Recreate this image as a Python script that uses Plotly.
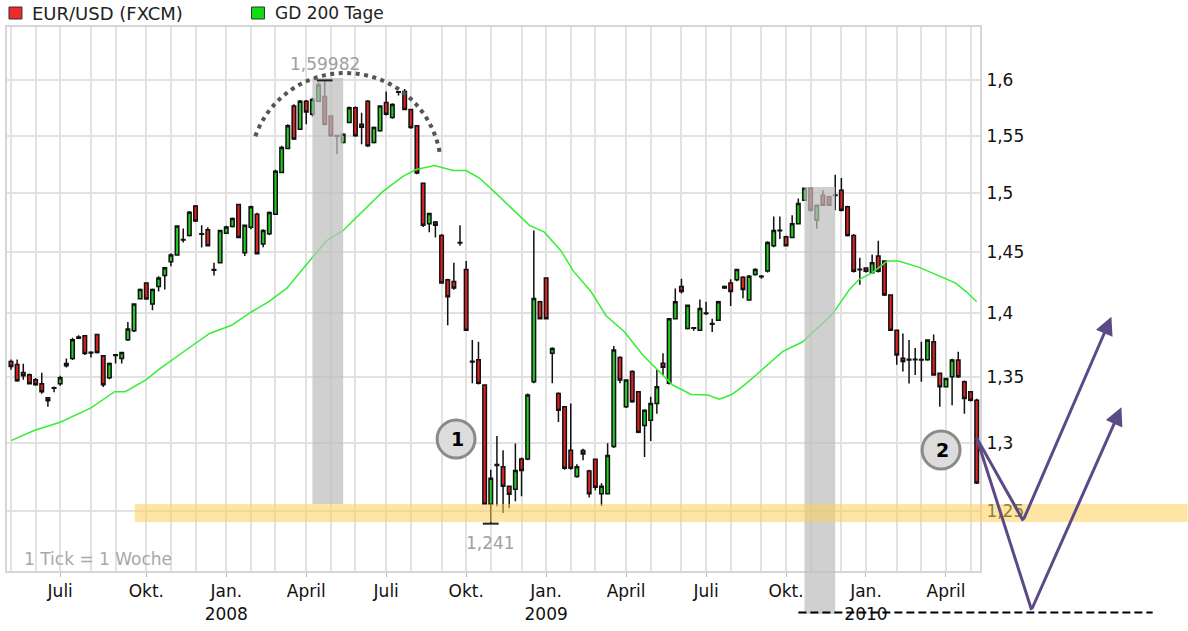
import math
import pandas as pd
import plotly.graph_objects as go

# ---------------- data ----------------
FIRST_WEEK = "2007-04-30"   # Monday of the first weekly candle

OPEN = [
    1.3618, 1.3594, 1.3532, 1.3516, 1.3477, 1.3446, 1.3338, 1.3415, 1.3446, 1.3586,
    1.3641, 1.3800, 1.3820, 1.3690, 1.3831, 1.3664, 1.3492, 1.3672, 1.3641, 1.3789,
    1.3860, 1.4117, 1.4244, 1.4075, 1.4217, 1.4306, 1.4419, 1.4475, 1.4605, 1.4637,
    1.4888, 1.4652, 1.4686, 1.4356, 1.4411, 1.4657, 1.4714, 1.4900, 1.4494, 1.4708,
    1.4817, 1.4566, 1.4652, 1.4817, 1.5175, 1.5386, 1.5764, 1.5557, 1.5808, 1.5690,
    1.5808, 1.5852, 1.5675, 1.5500, 1.5439, 1.5617, 1.5750, 1.5602, 1.5808, 1.5439,
    1.5543, 1.5797, 1.5661, 1.5895, 1.5896, 1.5734, 1.5587, 1.5083, 1.4737, 1.4751,
    1.4637, 1.4272, 1.4258, 1.4580, 1.4356, 1.3620, 1.3631, 1.3436, 1.2548, 1.2838,
    1.2821, 1.2679, 1.2657, 1.2879, 1.2879, 1.3462, 1.4092, 1.4286, 1.3682, 1.3371,
    1.3269, 1.2943, 1.2750, 1.2941, 1.2790, 1.2876, 1.2624, 1.2624, 1.2971, 1.3649,
    1.3269, 1.3540, 1.3385, 1.3128, 1.3167, 1.3295, 1.3605, 1.3449, 1.3956, 1.4217,
    1.3878, 1.3885, 1.3865, 1.4002, 1.3918, 1.3943, 1.4217, 1.4244, 1.4272, 1.4292,
    1.4106, 1.4314, 1.4300, 1.4342, 1.4551, 1.4682, 1.4628, 1.4622, 1.4737, 1.4937,
    1.5039, 1.4766, 1.4980, 1.4966, 1.4982, 1.5023, 1.4880, 1.4637, 1.4358, 1.4367,
    1.4328, 1.4467, 1.4425, 1.4147, 1.3865, 1.3643, 1.3635, 1.3636, 1.3634, 1.3631,
    1.3774, 1.3526, 1.3423, 1.3500, 1.3630, 1.3462, 1.3385, 1.3320]

HIGH = [
    1.3633, 1.3633, 1.3601, 1.3525, 1.3490, 1.3531, 1.3345, 1.3425, 1.3508, 1.3641,
    1.3805, 1.3825, 1.3825, 1.3698, 1.3835, 1.3670, 1.3610, 1.3675, 1.3695, 1.3930,
    1.4080, 1.4200, 1.4250, 1.4200, 1.4300, 1.4375, 1.4490, 1.4720, 1.4697, 1.4845,
    1.4895, 1.4723, 1.4708, 1.4411, 1.4685, 1.4720, 1.4790, 1.4905, 1.4727, 1.4890,
    1.4830, 1.4690, 1.4840, 1.5200, 1.5410, 1.5600, 1.5780, 1.5820, 1.5820, 1.5840,
    1.5980, 1.59982, 1.5680, 1.5505, 1.5520, 1.5760, 1.5760, 1.5705, 1.5820, 1.5580,
    1.5770, 1.5896, 1.5790, 1.5897, 1.5920, 1.5740, 1.5590, 1.5090, 1.4830, 1.4760,
    1.4650, 1.4280, 1.4411, 1.4723, 1.4425, 1.3787, 1.3774, 1.3440, 1.2800, 1.3050,
    1.2943, 1.2680, 1.2993, 1.2890, 1.3370, 1.4680, 1.4100, 1.4290, 1.3730, 1.3380,
    1.3270, 1.3294, 1.2840, 1.2955, 1.2800, 1.2880, 1.2700, 1.2995, 1.3740, 1.3660,
    1.3480, 1.3550, 1.3390, 1.3250, 1.3346, 1.3552, 1.3682, 1.3960, 1.4200, 1.4280,
    1.4070, 1.3890, 1.4111, 1.4092, 1.3956, 1.4100, 1.4225, 1.4275, 1.4360, 1.4300,
    1.4310, 1.4365, 1.4310, 1.4590, 1.4797, 1.4797, 1.4635, 1.4809, 1.4952, 1.5045,
    1.5050, 1.4900, 1.5023, 1.4970, 1.5157, 1.5128, 1.4890, 1.4650, 1.4453, 1.4370,
    1.4480, 1.4594, 1.4430, 1.4150, 1.3870, 1.3839, 1.3787, 1.3725, 1.3774, 1.3790,
    1.3830, 1.3530, 1.3490, 1.3640, 1.3695, 1.3470, 1.3390, 1.3330]

LOW = [
    1.3555, 1.3462, 1.3477, 1.3440, 1.3430, 1.3369, 1.3269, 1.3380, 1.3431, 1.3571,
    1.3630, 1.3795, 1.3670, 1.3650, 1.3680, 1.3420, 1.3480, 1.3602, 1.3602, 1.3780,
    1.3850, 1.4110, 1.4110, 1.4025, 1.4175, 1.4192, 1.4383, 1.4470, 1.4580, 1.4630,
    1.4751, 1.4538, 1.4546, 1.4306, 1.4405, 1.4650, 1.4705, 1.4615, 1.4467, 1.4690,
    1.4480, 1.4540, 1.4640, 1.4810, 1.5170, 1.5380, 1.5460, 1.5550, 1.5602, 1.5670,
    1.5800, 1.5590, 1.5490, 1.5336, 1.5430, 1.5610, 1.5490, 1.5424, 1.5400, 1.5430,
    1.5535, 1.5680, 1.5650, 1.5860, 1.5730, 1.5560, 1.5160, 1.4710, 1.4665, 1.4622,
    1.4240, 1.3904, 1.4190, 1.4551, 1.3860, 1.3449, 1.3440, 1.2545, 1.2410, 1.2535,
    1.2486, 1.2521, 1.2571, 1.2607, 1.2870, 1.3450, 1.3950, 1.3950, 1.3449, 1.3154,
    1.2800, 1.2800, 1.2740, 1.2870, 1.2597, 1.2650, 1.2536, 1.2620, 1.2960, 1.3450,
    1.3260, 1.3300, 1.3070, 1.2893, 1.3012, 1.3217, 1.3513, 1.3440, 1.3950, 1.4160,
    1.3870, 1.3860, 1.3860, 1.3985, 1.3850, 1.3940, 1.4195, 1.4058, 1.4260, 1.4120,
    1.4100, 1.4305, 1.4280, 1.4330, 1.4540, 1.4609, 1.4545, 1.4615, 1.4730, 1.4930,
    1.4840, 1.4695, 1.4890, 1.4890, 1.4852, 1.4840, 1.4630, 1.4330, 1.4230, 1.4330,
    1.4320, 1.4330, 1.4140, 1.3860, 1.3592, 1.3540, 1.3448, 1.3513, 1.3462, 1.3625,
    1.3510, 1.3269, 1.3420, 1.3282, 1.3490, 1.3217, 1.3310, 1.2695]

CLOSE = [
    1.3579, 1.3469, 1.3508, 1.3446, 1.3438, 1.3385, 1.3315, 1.3412, 1.3492, 1.3602,
    1.3789, 1.3810, 1.3680, 1.3685, 1.3688, 1.3438, 1.3602, 1.3665, 1.3688, 1.3875,
    1.4075, 1.4192, 1.4115, 1.4192, 1.4286, 1.4369, 1.4475, 1.4717, 1.4600, 1.4834,
    1.4760, 1.4648, 1.4552, 1.4350, 1.4680, 1.4709, 1.4780, 1.4622, 1.4723, 1.4880,
    1.4486, 1.4680, 1.4831, 1.5187, 1.5395, 1.5587, 1.5469, 1.5808, 1.5711, 1.5823,
    1.5956, 1.5602, 1.5498, 1.5495, 1.5513, 1.5750, 1.5498, 1.5575, 1.5409, 1.5572,
    1.5764, 1.5690, 1.5779, 1.5890, 1.5734, 1.5572, 1.5172, 1.4723, 1.4823, 1.4723,
    1.4244, 1.4133, 1.4203, 1.4576, 1.3865, 1.3615, 1.3449, 1.2548, 1.2738, 1.2830,
    1.2679, 1.2621, 1.2793, 1.2793, 1.3359, 1.4119, 1.3956, 1.3956, 1.3720, 1.3243,
    1.2810, 1.2810, 1.2821, 1.2916, 1.2624, 1.2671, 1.2679, 1.2905, 1.3709, 1.3475,
    1.3475, 1.3308, 1.3077, 1.3244, 1.3295, 1.3423, 1.3573, 1.3956, 1.4092, 1.4175,
    1.4064, 1.3880, 1.4039, 1.3998, 1.3912, 1.4092, 1.4205, 1.4175, 1.4356, 1.4192,
    1.4300, 1.4356, 1.4296, 1.4580, 1.4680, 1.4678, 1.4551, 1.4737, 1.4909, 1.5039,
    1.4852, 1.4894, 1.4894, 1.4894, 1.4978, 1.4852, 1.4637, 1.4340, 1.4354, 1.4340,
    1.4411, 1.4340, 1.4147, 1.3865, 1.3670, 1.3618, 1.3630, 1.3632, 1.3630, 1.3787,
    1.3513, 1.3423, 1.3487, 1.3630, 1.3500, 1.3333, 1.3320, 1.2702]

# 200-day moving average ("GD 200 Tage")
MA_DATES = [
    "2007-04-30", "2007-05-27", "2007-06-25", "2007-07-30", "2007-08-26", "2007-09-07",
    "2007-10-01", "2007-10-15", "2007-11-18", "2007-12-12", "2008-01-06", "2008-01-29",
    "2008-02-17", "2008-03-09", "2008-04-02", "2008-04-23", "2008-05-12", "2008-06-13",
    "2008-06-26", "2008-07-19", "2008-08-03", "2008-08-24", "2008-09-14", "2008-09-29",
    "2008-10-14", "2008-11-02", "2008-12-10", "2008-12-27", "2009-01-15", "2009-01-29",
    "2009-02-18", "2009-03-07", "2009-03-28", "2009-04-18", "2009-05-05", "2009-05-22",
    "2009-06-12", "2009-07-01", "2009-07-14", "2009-07-27", "2009-08-07", "2009-08-25",
    "2009-09-24", "2009-10-17", "2009-11-20", "2009-12-09", "2009-12-20", "2010-01-04",
    "2010-01-21", "2010-02-03", "2010-02-26", "2010-03-17", "2010-04-09", "2010-04-21",
    "2010-05-03"]
MA_VALUES = [
    1.3015, 1.3092, 1.3153, 1.3261, 1.3385, 1.3385, 1.3477, 1.3555, 1.3722, 1.3839,
    1.3904, 1.4012, 1.4092, 1.4203, 1.4411, 1.4594, 1.4680, 1.4909, 1.5010, 1.5142,
    1.5202, 1.5237, 1.5193, 1.5193, 1.5128, 1.4995, 1.4723, 1.4666, 1.4509, 1.4342,
    1.4175, 1.3982, 1.3852, 1.3669, 1.3552, 1.3436, 1.3364, 1.3359, 1.3328, 1.3359,
    1.3410, 1.3513, 1.3695, 1.3773, 1.3995, 1.4189, 1.4273, 1.4328, 1.4425, 1.4425,
    1.4375, 1.4314, 1.4244, 1.4175, 1.4092]

Y_TICKS = [1.25, 1.3, 1.35, 1.4, 1.45, 1.5, 1.55, 1.6]
Y_TICK_LABELS = ["1,25", "1,3", "1,35", "1,4", "1,45", "1,5", "1,55", "1,6"]

LABEL_MONTHS = ["2007-07-01", "2007-10-01", "2008-01-01", "2008-04-01", "2008-07-01",
                "2008-10-01", "2009-01-01", "2009-04-01", "2009-07-01", "2009-10-01",
                "2010-01-01", "2010-04-01"]
LABEL_TEXTS = ["Juli", "Okt.", "Jan.<br>2008", "April", "Juli", "Okt.", "Jan.<br>2009",
               "April", "Juli", "Okt.", "Jan.<br>2010", "April"]
GRID_FIRST_MONTH, GRID_LAST_MONTH = "2007-05-01", "2010-05-01"

SERIES_NAME = "EUR/USD (FXCM)"
MA_NAME = "GD 200 Tage"
HIGH_TEXT, LOW_TEXT = "1,59982", "1,241"
HIGH_IDX, LOW_IDX = 51, 78
SHADE_WEEKS = [(49, 54), (129, 134)]
NOTE = "1 Tick = 1 Woche"

# ---------------- layout helpers (pixel geometry of the frame) ----------------
W, H = 1188, 631
PL, PR, PT, PB = 5, 980, 27, 571


def px(x):
    return (x - PL) / (PR - PL)


def py(y):
    return (PB - y) / (PB - PT)


FONT = "DejaVu Sans"
RED, GREEN = "#e02222", "#22cc22"
GRID = "#e2e2e2"
PURPLE = "#5b4a86"

dates = pd.date_range(FIRST_WEEK, periods=len(OPEN), freq="7D")


def week_of(day):
    d = pd.Timestamp(day)
    return d - pd.Timedelta(days=d.weekday())


grid_vals = [week_of(m) for m in pd.date_range(GRID_FIRST_MONTH, GRID_LAST_MONTH, freq="MS")]
label_vals = [week_of(m) for m in LABEL_MONTHS]

fig = go.Figure()
fig.add_trace(go.Candlestick(
    x=dates, open=OPEN, high=HIGH, low=LOW, close=CLOSE,
    increasing=dict(line=dict(color="#111111", width=1.5), fillcolor=GREEN),
    decreasing=dict(line=dict(color="#111111", width=1.5), fillcolor=RED),
    whiskerwidth=0, showlegend=False, hoverinfo="skip"))
fig.add_trace(go.Scatter(
    x=MA_DATES, y=MA_VALUES, mode="lines", line=dict(color="#35ee35", width=1.5),
    showlegend=False, hoverinfo="skip"))

shapes = []
annotations = []

# shaded weeks
shade_px = [(78, 504), (187, 614)]
for (a, b), (top, bottom) in zip(SHADE_WEEKS, shade_px):
    shapes.append(dict(type="rect", xref="x", yref="paper", x0=dates[a], x1=dates[b],
                       y0=py(bottom), y1=py(top),
                       fillcolor="rgba(190,190,190,0.72)", line=dict(width=0), layer="above"))

# support band
shapes.append(dict(type="rect", xref="paper", yref="paper", x0=px(133), x1=px(1188),
                   y0=py(522), y1=py(504), fillcolor="rgba(253,208,90,0.55)",
                   line=dict(width=0), layer="above"))

# high / low markers
half = pd.Timedelta(days=9)
shapes.append(dict(type="line", xref="x", yref="y", x0=dates[HIGH_IDX] - half,
                   x1=dates[HIGH_IDX] + half, y0=HIGH[HIGH_IDX], y1=HIGH[HIGH_IDX],
                   line=dict(color="#222", width=2)))
shapes.append(dict(type="line", xref="x", yref="y", x0=dates[LOW_IDX] - half,
                   x1=dates[LOW_IDX] + half, y0=LOW[LOW_IDX], y1=LOW[LOW_IDX],
                   line=dict(color="#222", width=2)))
annotations.append(dict(x=dates[HIGH_IDX], y=math.log10(HIGH[HIGH_IDX]), xref="x", yref="y",
                        text=HIGH_TEXT, showarrow=False, yshift=16,
                        xanchor="center", yanchor="middle",
                        font=dict(family=FONT, size=17, color="#a0a0a0")))
annotations.append(dict(x=dates[LOW_IDX], y=math.log10(LOW[LOW_IDX]), xref="x", yref="y",
                        text=LOW_TEXT, showarrow=False, yshift=-19,
                        xanchor="center", yanchor="middle",
                        font=dict(family=FONT, size=17, color="#a0a0a0")))

# dotted arc over the top
cx, cy, r = 344, 169, 96
pts = []
n = 60
a0, a1 = math.radians(160), math.radians(9)
for k in range(n + 1):
    a = a0 + (a1 - a0) * k / n
    pts.append((px(cx + r * math.cos(a)), py(cy - r * math.sin(a))))
path = "M" + " L".join(f"{x:.5f},{y:.5f}" for x, y in pts)
shapes.append(dict(type="path", xref="paper", yref="paper", path=path,
                   line=dict(color="#555555", width=4, dash="4px,4.5px"), layer="above"))

# circled numbers
for (ccx, ccy, label) in [(455, 439, "1"), (941, 450, "2")]:
    rr = 19
    shapes.append(dict(type="circle", xref="paper", yref="paper",
                       x0=px(ccx - rr), x1=px(ccx + rr), y0=py(ccy + rr), y1=py(ccy - rr),
                       fillcolor="#dcdcdc", line=dict(color="#8a8a8a", width=3), layer="above"))
    annotations.append(dict(x=px(ccx + 1), y=py(ccy), xref="paper", yref="paper",
                            text=f"<b>{label}</b>", showarrow=False,
                            xanchor="center", yanchor="middle",
                            font=dict(family=FONT, size=19, color="#000")))

# purple scenario arrows
start = (976.7, 438)
for mid, head in [((1023.3, 520.7), (1111.7, 316.7)), ((1031.7, 610), (1121.7, 407.3))]:
    shapes.append(dict(type="line", xref="paper", yref="paper",
                       x0=px(start[0]), y0=py(start[1]), x1=px(mid[0]), y1=py(mid[1]),
                       line=dict(color=PURPLE, width=3), layer="above"))
    annotations.append(dict(x=px(head[0]), y=py(head[1]), xref="paper", yref="paper",
                            ax=mid[0] - head[0], ay=mid[1] - head[1], axref="pixel", ayref="pixel",
                            text="", showarrow=True, arrowhead=2, arrowsize=1.2, arrowwidth=3,
                            arrowcolor=PURPLE, standoff=0, startstandoff=0))

# dashed target line
shapes.append(dict(type="line", xref="paper", yref="paper", x0=px(798), x1=px(1153),
                   y0=py(612.5), y1=py(612.5), line=dict(color="#000", width=2, dash="8px,4px")))

# legend (manual)
shapes.append(dict(type="rect", xref="paper", yref="paper", x0=px(7), x1=px(20),
                   y0=py(19), y1=py(7), fillcolor="#ee2a2a", line=dict(color="#333", width=1)))
shapes.append(dict(type="rect", xref="paper", yref="paper", x0=px(250), x1=px(263),
                   y0=py(19), y1=py(7), fillcolor="#11dd11", line=dict(color="#333", width=1)))
annotations.append(dict(x=px(28), y=py(13), xref="paper", yref="paper", text=SERIES_NAME,
                        showarrow=False, xanchor="left", yanchor="middle",
                        font=dict(family=FONT, size=18, color="#222")))
annotations.append(dict(x=px(272), y=py(13), xref="paper", yref="paper", text=MA_NAME,
                        showarrow=False, xanchor="left", yanchor="middle",
                        font=dict(family=FONT, size=17, color="#222")))
annotations.append(dict(x=px(20), y=py(559), xref="paper", yref="paper", text=NOTE,
                        showarrow=False, xanchor="left", yanchor="middle",
                        font=dict(family=FONT, size=17, color="#a8a8a8")))

fig.update_layout(
    width=W, height=H,
    margin=dict(l=PL, r=W - PR, t=PT, b=H - PB),
    paper_bgcolor="white", plot_bgcolor="white",
    showlegend=False, boxgap=0.18,
    shapes=shapes, annotations=annotations,
    xaxis=dict(
        type="date", range=["2007-04-25 11:00", "2010-05-06 18:00"],
        rangeslider=dict(visible=False),
        tickmode="array", tickvals=label_vals, ticktext=LABEL_TEXTS,
        ticks="outside", ticklen=4, tickcolor="#bbbbbb", tickwidth=1,
        showgrid=True, gridcolor=GRID, gridwidth=2,
        minor=dict(tickmode="array", tickvals=grid_vals, showgrid=True,
                   gridcolor=GRID, gridwidth=2, ticks=""),
        showline=True, linecolor="#d6d6d6", linewidth=2, mirror=True,
        tickfont=dict(family=FONT, size=17, color="#111"),
        zeroline=False, fixedrange=True),
    yaxis=dict(
        type="log", side="right",
        range=[math.log10(1.2078), math.log10(1.6495)],
        tickmode="array", tickvals=Y_TICKS, ticktext=Y_TICK_LABELS,
        ticks="", ticklabelstandoff=1,
        showgrid=True, gridcolor=GRID, gridwidth=2,
        showline=True, linecolor="#d6d6d6", linewidth=2, mirror=True,
        tickfont=dict(family=FONT, size=17, color="#111"),
        zeroline=False, fixedrange=True),
)

fig.write_html("out.html", config={"displayModeBar": False, "staticPlot": True},
               post_script="document.body.style.margin='0px';")
